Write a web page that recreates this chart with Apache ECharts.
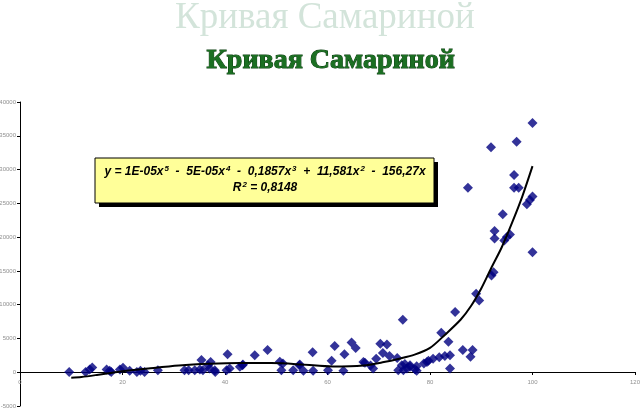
<!DOCTYPE html>
<html>
<head>
<meta charset="utf-8">
<script src="https://cdn.jsdelivr.net/npm/echarts@6/dist/echarts.min.js"></script>
<style>html,body{margin:0;padding:0;background:#fff;}#c{width:640px;height:408px;}</style>
</head>
<body>
<div id="c"></div>
<script>
var titleText = 'Кривая Самариной';
var equationLine = 'y = 1E-05x5 - 5E-05x4 - 0,1857x3 + 11,581x2 - 156,27x';
var r2Text = 'R2 = 0,8148';

var scatterX = [100, 96.9, 91.9, 96.4, 87.4, 96.4, 97.3, 100, 99.5, 98.9, 94.2, 92.6, 92.6, 95.6, 95, 94.5, 100, 92.4, 92, 89, 89.6, 84.9, 74.7, 82.2, 83.6, 86.4, 88.3, 87.9, 83.9, 82.9, 81.8, 80.6, 79.7, 78.8, 83.9, 77.4, 77.1, 76.1, 75.5, 74.5, 74.8, 73.8, 75.1, 76.1, 77.4, 79.4,
  57.1, 61.4, 63.3, 64.7, 65.5, 60.8, 67.3, 69.5, 70.3, 71.6, 70.8, 72.1, 73.6, 68.9, 68.4, 54.6, 55.3, 57.2, 60.1, 63.1, 67, 53.3, 51, 50.7, 51.3, 54.5,
  32.9, 35.4, 35.1, 36.7, 38.1, 40.5, 40.3, 40.9, 43.4, 45.8, 48.3, 43.5, 42.9, 38, 37, 35.7, 32.1, 34.1, 37.2,
  9.6, 12.8, 14.1, 13.6, 16.9, 17.5, 17.8, 19.5, 20.1, 21.4, 22.8, 23.5, 24.3, 26.9];
var scatterY = [36900, 34100, 33300, 29200, 27300, 27300, 27300, 26000, 25500, 24850, 23400, 20900, 19800, 20400, 20000, 19500, 17750, 14800, 14300, 11600, 10600, 8900, 7750, 5850, 4500, 3300, 3300, 2300, 2500, 2400, 2200, 2000, 1700, 1300, 550, 900, 400, 1050, 550, 1050, 300, 300, 1200, 800, 200, 1500,
  2950, 3900, 2650, 4400, 3600, 1700, 1400, 2000, 4200, 4100, 2850, 2400, 2100, 550, 1000, 1150, 200, 200, 300, 200, 1500, 300, 300, 1550, 1300, 1050,
  300, 1800, 400, 1050, 50, 2650, 300, 550, 1050, 2500, 3300, 1150, 800, 300, 550, 300, 300, 300, 1500,
  50, 50, 700, 400, 400, 200, 50, 400, 650, 200, 50, 200, 50, 300];

var trendX = [10, 12, 15, 19, 25, 31, 37, 43, 49, 55, 61, 67, 71, 74, 77, 80, 83, 86, 88, 90, 92, 94, 96, 98, 100];
var trendY = [-800, -700, -400, 50, 550, 1000, 1250, 1350, 1350, 1150, 850, 1000, 1500, 2000, 2600, 3600, 5600, 7800, 9800, 12400, 15500, 18500, 22100, 26000, 30500];

var xTicks = {min: 0, max: 120, interval: 20};
var yTicks = {min: -5000, max: 40000, interval: 5000};

var scatterData = scatterX.map(function (x, i) { return [x, scatterY[i]]; });
var trendData = trendX.map(function (x, i) { return [x, trendY[i]]; });

function toRich(s) {
  var out = '';
  var parts = s.split(/(x\d|R\d)/);
  parts.forEach(function (p) {
    if (!p) return;
    var m = p.match(/^(x|R)(\d)$/);
    if (m) { out += '{a|' + m[1] + '}{s|' + m[2] + '}'; }
    else { out += '{a|' + p.replace(/ - /g, '  -  ').replace(/ \+ /g, '  +  ') + '}'; }
  });
  return out;
}

var gridTop = 102, gridBottom = 2, chartH = 408;
// place the x axis on the zero line of the y scale
var plotH = chartH - gridTop - gridBottom;
var zeroOffset = -Math.round(plotH * (0 - yTicks.min) / (yTicks.max - yTicks.min));

var chart = echarts.init(document.getElementById('c'), null, {renderer: 'canvas'});
var eqFont = 'Arial, "Liberation Sans", sans-serif';
var serif = '"Times New Roman", "Liberation Serif", serif';
var richStyles = {
  a: {font: 'italic bold 12px ' + eqFont, fill: '#000', verticalAlign: 'bottom', height: 14},
  s: {font: 'italic bold 8px ' + eqFont, fill: '#000', verticalAlign: 'top', padding: [0, 0, 6, 1]}
};
chart.setOption({
  animation: false,
  backgroundColor: '#ffffff',
  grid: {left: 20, right: 5, top: gridTop, bottom: gridBottom, containLabel: false, outerBoundsMode: 'none'},
  xAxis: {
    type: 'value', min: xTicks.min, max: xTicks.max, interval: xTicks.interval,
    position: 'bottom', offset: zeroOffset,
    splitLine: {show: false},
    axisLine: {onZero: false, lineStyle: {color: '#000', width: 1}},
    axisTick: {show: true, length: 3, lineStyle: {color: '#000'}},
    axisLabel: {fontSize: 6, color: '#909090', fontFamily: eqFont, margin: 7}
  },
  yAxis: {
    type: 'value', min: yTicks.min, max: yTicks.max, interval: yTicks.interval,
    splitLine: {show: false},
    axisLine: {show: true, onZero: false, lineStyle: {color: '#000', width: 1}},
    axisTick: {show: true, length: 3, lineStyle: {color: '#000'}},
    axisLabel: {fontSize: 6, color: '#909090', fontFamily: eqFont, margin: 4,
      formatter: function (v) { return String(v); }}
  },
  series: [
    {type: 'scatter', data: scatterData, symbol: 'diamond', symbolSize: 10,
      itemStyle: {color: '#000080'}, z: 2},
    {type: 'line', data: trendData, smooth: 0.3, showSymbol: false, symbol: 'none',
      lineStyle: {color: '#000', width: 2}, z: 3}
  ],
  graphic: [
    {type: 'text', left: 175, top: 0, z: 10,
      style: {text: titleText, font: '37px ' + serif, fill: '#d3e4da'}},
    {type: 'text', left: 206, top: 46, z: 10,
      style: {text: titleText, font: 'bold 28px ' + serif, fill: '#1b6f22',
        stroke: '#0b3d10', lineWidth: 1,
        textShadowColor: '#000', textShadowOffsetX: 2, textShadowOffsetY: 2, textShadowBlur: 0}},
    {type: 'rect', shape: {x: 99, y: 162, width: 339, height: 45}, z: 10,
      style: {fill: '#000'}},
    {type: 'rect', shape: {x: 95, y: 158, width: 339, height: 45}, z: 11,
      style: {fill: '#ffff99', stroke: '#000', lineWidth: 1}},
    {type: 'text', x: 265, y: 165, z: 12,
      style: {text: toRich(equationLine), align: 'center', rich: richStyles}},
    {type: 'text', x: 265, y: 181, z: 12,
      style: {text: toRich(r2Text), align: 'center', rich: richStyles}}
  ]
});
</script>
</body>
</html>
